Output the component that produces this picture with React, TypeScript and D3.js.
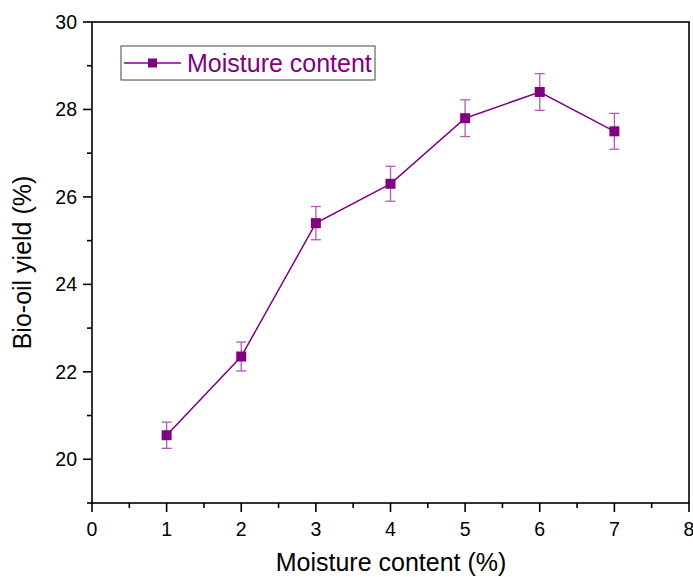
import React from "react";
import * as d3 from "d3";

const xValues = [1, 2, 3, 4, 5, 6, 7];
const yValues = [20.55, 22.35, 25.4, 26.3, 27.8, 28.4, 27.5];
const yErrors = [0.3, 0.33, 0.38, 0.4, 0.42, 0.42, 0.41];
const xTicks = [0, 1, 2, 3, 4, 5, 6, 7, 8];
const yTicks = [20, 22, 24, 26, 28, 30];
const xMinor = [0.5, 1.5, 2.5, 3.5, 4.5, 5.5, 6.5, 7.5];
const yMinor = [19, 21, 23, 25, 27, 29];
const seriesName = "Moisture content";

const W = 693, H = 577;
const L = 92, R = 689, T = 22, B = 503;
const COLOR = "#800080";
const ERR = "#b45ab4";
const FONT = "Liberation Sans, Arial, sans-serif";

export default function App() {
  const x = d3.scaleLinear().domain([0, 8]).range([L, R]);
  const y = d3.scaleLinear().domain([19, 30]).range([B, T]);
  const line = d3.line<number>().x((_, i) => x(xValues[i])).y((d) => y(d));
  const ms = 10;
  return (
    <svg width={W} height={H} style={{ position: "absolute", left: 0, top: 0 }}>
      <rect x={0} y={0} width={W} height={H} fill="white" />
      <rect x={L} y={T} width={R - L} height={B - T} fill="none" stroke="#000" strokeWidth={1.6} />
      {yTicks.map((t) => (
        <g key={"y" + t}>
          <line x1={L - 9} x2={L} y1={y(t)} y2={y(t)} stroke="#000" strokeWidth={1.6} />
          <text x={L - 15} y={y(t)} dy="0.36em" textAnchor="end" fontFamily={FONT} fontSize={19.5}>{t}</text>
        </g>
      ))}
      {yMinor.map((t) => (
        <line key={"ym" + t} x1={L - 5} x2={L} y1={y(t)} y2={y(t)} stroke="#000" strokeWidth={1.6} />
      ))}
      {xTicks.map((t) => (
        <g key={"x" + t}>
          <line x1={x(t)} x2={x(t)} y1={B} y2={B + 9} stroke="#000" strokeWidth={1.6} />
          <text x={x(t)} y={B + 33} textAnchor="middle" fontFamily={FONT} fontSize={19.5}>{t}</text>
        </g>
      ))}
      {xMinor.map((t) => (
        <line key={"xm" + t} x1={x(t)} x2={x(t)} y1={B} y2={B + 5} stroke="#000" strokeWidth={1.6} />
      ))}
      <text x={391} y={571} textAnchor="middle" fontFamily={FONT} fontSize={25}>Moisture content (%)</text>
      <text transform={`translate(31,${(T + B) / 2}) rotate(-90)`} textAnchor="middle" fontFamily={FONT} fontSize={25}>Bio-oil yield (%)</text>
      <path d={line(yValues) || ""} fill="none" stroke={COLOR} strokeWidth={1.5} />
      {yValues.map((v, i) => {
        const cx = x(xValues[i]);
        const y1 = y(v + yErrors[i]);
        const y2 = y(v - yErrors[i]);
        return (
          <g key={"e" + i} stroke={ERR} strokeWidth={1.3}>
            <line x1={cx} x2={cx} y1={y1} y2={y2} />
            <line x1={cx - 5} x2={cx + 5} y1={y1} y2={y1} />
            <line x1={cx - 5} x2={cx + 5} y1={y2} y2={y2} />
          </g>
        );
      })}
      {yValues.map((v, i) => (
        <rect key={"m" + i} x={x(xValues[i]) - ms / 2} y={y(v) - ms / 2} width={ms} height={ms} fill={COLOR} />
      ))}
      <rect x={121} y={46} width={254} height={34} fill="white" stroke="#444" strokeWidth={1} />
      <line x1={124} x2={181} y1={63} y2={63} stroke={COLOR} strokeWidth={1.5} />
      <rect x={148} y={58.5} width={9} height={9} fill={COLOR} />
      <text x={187} y={72} fontFamily={FONT} fontSize={25} fill={COLOR}>{seriesName}</text>
    </svg>
  );
}
